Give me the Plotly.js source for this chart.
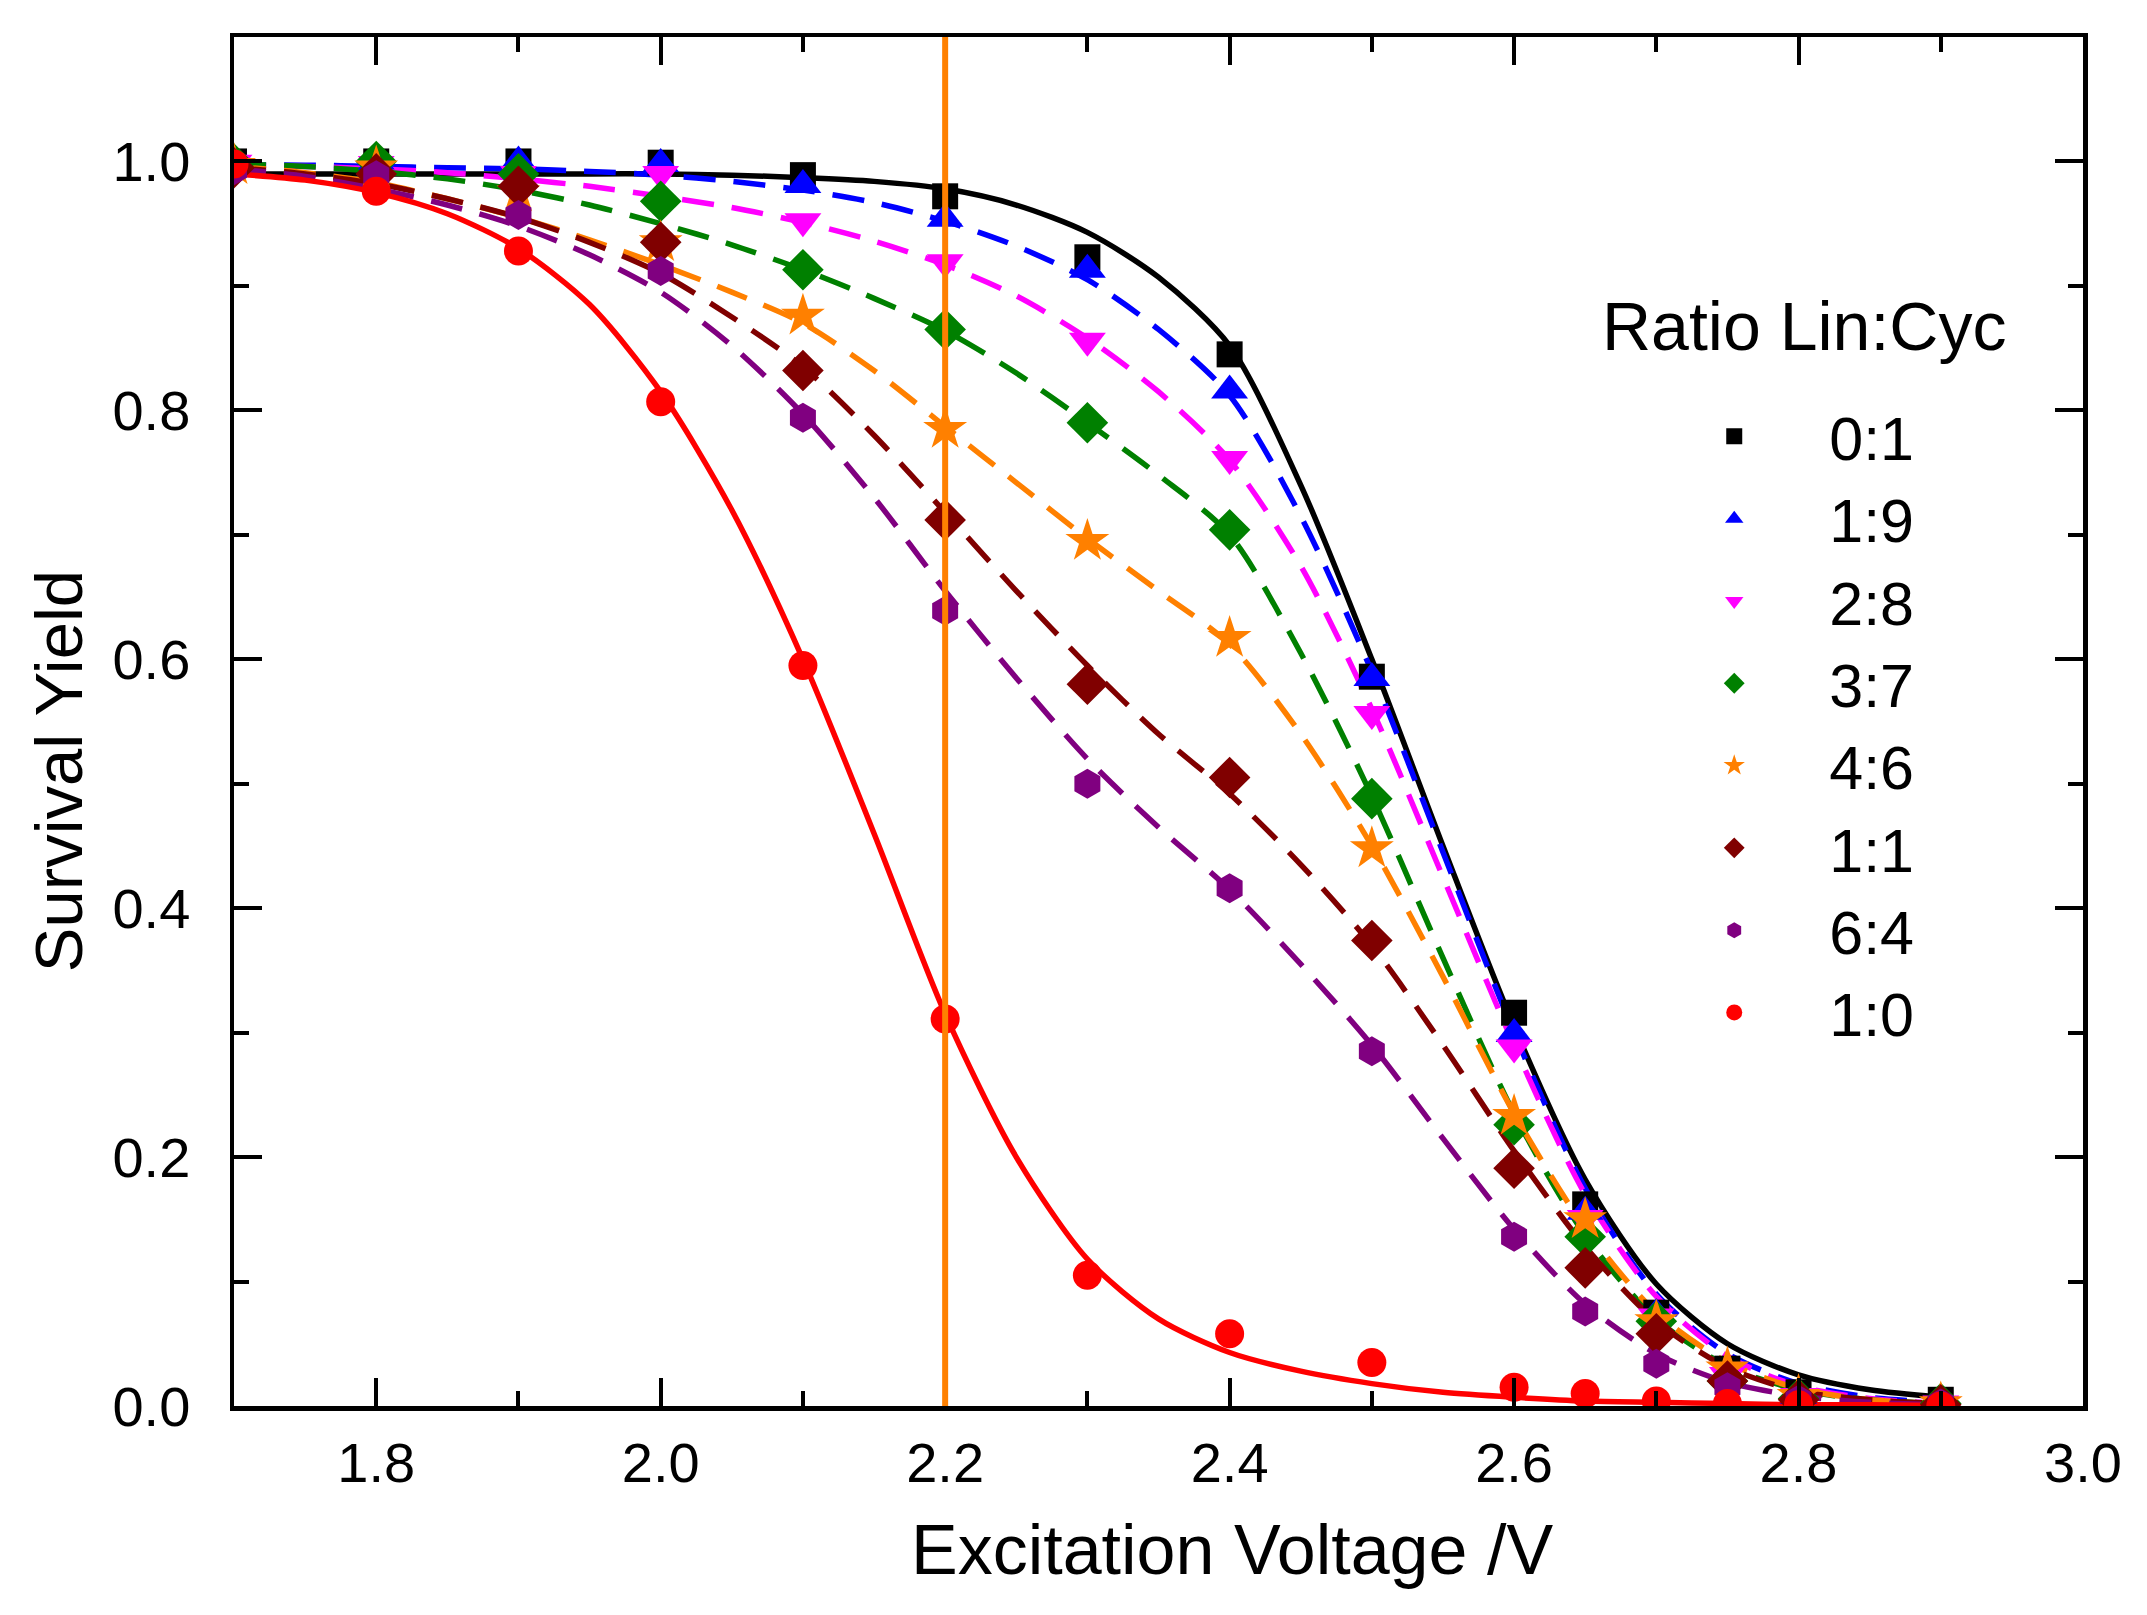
<!DOCTYPE html>
<html>
<head>
<meta charset="utf-8">
<script src="https://cdn.plot.ly/plotly-3.0.1.min.js"></script>
<style>
  html, body { margin: 0; padding: 0; background: #fff; }
  #chart { width: 2147px; height: 1615px; }
</style>
</head>
<body>
<div id="chart"></div>
<script>
// measured points
const voltages = [1.7, 1.8, 1.9, 2.0, 2.1, 2.2, 2.3, 2.4, 2.5, 2.6, 2.65, 2.7, 2.75, 2.8, 2.9];

const yield01 = [1.0, 1.0, 1.0, 0.999, 0.989, 0.972, 0.923, 0.845, 0.586, 0.316, 0.162, 0.075, 0.03, 0.011, 0.005];
const yield19 = [1.0, 1.0, 1.0, 0.998, 0.981, 0.954, 0.913, 0.816, 0.585, 0.299, 0.156, 0.074, 0.026, 0.008, 0.002];
const yield28 = [0.999, 0.998, 0.99, 0.99, 0.952, 0.919, 0.856, 0.761, 0.556, 0.288, 0.151, 0.072, 0.025, 0.008, 0.002];
const yield37 = [0.998, 1.0, 0.99, 0.968, 0.913, 0.865, 0.79, 0.704, 0.488, 0.226, 0.136, 0.068, 0.02, 0.006, 0.002];
const yield46 = [0.997, 0.995, 0.975, 0.935, 0.876, 0.785, 0.695, 0.617, 0.448, 0.233, 0.15, 0.068, 0.03, 0.008, 0.002];
const yield11 = [0.995, 0.99, 0.98, 0.935, 0.832, 0.712, 0.58, 0.505, 0.374, 0.191, 0.111, 0.058, 0.02, 0.005, 0.001];
const yield64 = [0.993, 0.989, 0.957, 0.912, 0.794, 0.639, 0.5, 0.416, 0.285, 0.136, 0.076, 0.034, 0.015, 0.005, 0.002];
const yield10 = [0.998, 0.976, 0.928, 0.807, 0.595, 0.311, 0.105, 0.058, 0.035, 0.015, 0.01, 0.004, 0.002, 0.001, 0.0];

// fitted curves
const fitVoltages = [1.7, 1.75, 1.8, 1.85, 1.9, 1.95, 2.0, 2.05, 2.1, 2.15, 2.2, 2.25, 2.3, 2.35, 2.4, 2.45, 2.5, 2.55, 2.6, 2.65, 2.7, 2.75, 2.8, 2.85, 2.9];

const fit01 = [0.99, 0.99, 0.99, 0.99, 0.99, 0.99, 0.99, 0.989, 0.987, 0.984, 0.978, 0.965, 0.943, 0.907, 0.852, 0.74, 0.6, 0.45, 0.305, 0.182, 0.098, 0.05, 0.025, 0.013, 0.007];
const fit19 = [0.997, 0.997, 0.996, 0.995, 0.994, 0.992, 0.989, 0.984, 0.977, 0.967, 0.952, 0.932, 0.905, 0.865, 0.812, 0.715, 0.59, 0.445, 0.3, 0.175, 0.09, 0.042, 0.018, 0.007, 0.003];
const fit28 = [0.997, 0.996, 0.994, 0.991, 0.986, 0.98, 0.972, 0.963, 0.951, 0.936, 0.917, 0.892, 0.858, 0.815, 0.76, 0.675, 0.56, 0.425, 0.29, 0.17, 0.088, 0.04, 0.016, 0.006, 0.002];
const fit37 = [0.998, 0.996, 0.992, 0.986, 0.977, 0.965, 0.95, 0.933, 0.913, 0.89, 0.864, 0.83, 0.79, 0.748, 0.7, 0.605, 0.49, 0.36, 0.235, 0.137, 0.07, 0.032, 0.013, 0.005, 0.002];
const fit46 = [0.996, 0.991, 0.983, 0.97, 0.955, 0.937, 0.917, 0.895, 0.87, 0.832, 0.787, 0.742, 0.697, 0.655, 0.612, 0.54, 0.45, 0.345, 0.235, 0.143, 0.075, 0.035, 0.014, 0.005, 0.002];
const fit11 = [0.995, 0.99, 0.982, 0.97, 0.955, 0.935, 0.91, 0.875, 0.835, 0.78, 0.718, 0.655, 0.595, 0.54, 0.492, 0.435, 0.37, 0.29, 0.205, 0.128, 0.068, 0.031, 0.012, 0.005, 0.002];
const fit64 = [0.994, 0.988, 0.978, 0.965, 0.948, 0.925, 0.895, 0.852, 0.797, 0.73, 0.655, 0.585, 0.52, 0.465, 0.415, 0.355, 0.29, 0.215, 0.142, 0.082, 0.042, 0.019, 0.008, 0.003, 0.001];
const fit10 = [0.99, 0.985, 0.975, 0.958, 0.93, 0.885, 0.815, 0.72, 0.6, 0.46, 0.315, 0.2, 0.118, 0.07, 0.043, 0.028, 0.018, 0.011, 0.007, 0.004, 0.003, 0.002, 0.001, 0.001, 0.0005];

const seriesNames = ["0:1", "1:9", "2:8", "3:7", "4:6", "1:1", "6:4", "1:0"];
const seriesColors = ["#000000", "#0000FF", "#FF00FF", "#008000", "#FF8000", "#800000", "#800080", "#FF0000"];
const seriesSymbols = ["square", "triangle-up", "triangle-down", "diamond", "star", "diamond", "hexagon", "circle"];
const seriesSizes = [26, 32, 32, 32, 33, 32, 30, 29];
const seriesYields = [yield01, yield19, yield28, yield37, yield46, yield11, yield64, yield10];
const seriesFits = [fit01, fit19, fit28, fit37, fit46, fit11, fit64, fit10];

// vertical marker line
const markerVoltage = 2.2;
const yRange = [0, 1.1];

const font = "Liberation Sans, Arial, sans-serif";
const traces = [];

seriesNames.forEach((name, i) => {
  const solid = name === "0:1" || name === "1:0";
  traces.push({
    x: fitVoltages,
    y: seriesFits[i],
    mode: "lines",
    type: "scatter",
    line: {
      color: seriesColors[i],
      width: 5.5,
      shape: "spline",
      smoothing: 0.8,
      dash: solid ? "solid" : "32px,18px",
    },
    showlegend: false,
    hoverinfo: "skip",
  });
});

seriesNames.forEach((name, i) => {
  traces.push({
    x: voltages,
    y: seriesYields[i],
    mode: "markers",
    type: "scatter",
    name: name,
    marker: {
      color: seriesColors[i],
      symbol: seriesSymbols[i],
      size: seriesSizes[i],
      line: { width: 0 },
    },
  });
});

const axisCommon = {
  showline: true,
  linecolor: "#000",
  linewidth: 4.5,
  mirror: "ticks",
  ticks: "inside",
  ticklen: 28,
  tickwidth: 4,
  tickcolor: "#000",
  showgrid: false,
  zeroline: false,
  tickfont: { family: font, size: 56, color: "#000" },
  tickformat: ".1f",
};

const titleFont = { family: font, color: "#000" };

const layout = {
  width: 2147,
  height: 1615,
  paper_bgcolor: "#fff",
  plot_bgcolor: "#fff",
  margin: { l: 234, r: 64, t: 37, b: 209 },
  xaxis: {
    ...axisCommon,
    range: [1.7, 3.0],
    tick0: 1.8,
    dtick: 0.2,
    ticklabelstandoff: 4,
    minor: { dtick: 0.1, tick0: 1.7, ticks: "inside", ticklen: 15, tickwidth: 4, tickcolor: "#000" },
  },
  yaxis: {
    ...axisCommon,
    range: yRange,
    tick0: 0,
    dtick: 0.2,
    ticklabelstandoff: 28,
    minor: { dtick: 0.1, tick0: 0, ticks: "inside", ticklen: 15, tickwidth: 4, tickcolor: "#000" },
  },
  shapes: [{
    type: "line",
    xref: "x", yref: "paper",
    x0: markerVoltage, x1: markerVoltage,
    y0: 0, y1: 1,
    layer: "above",
    line: { color: "#FF8000", width: 6 },
  }],
  legend: {
    x: 0.760,
    y: 0.742,
    xanchor: "left",
    yanchor: "top",
    bgcolor: "rgba(0,0,0,0)",
    itemwidth: 180,
    font: { family: font, size: 61, color: "#000" },
  },
  annotations: [
    {
      text: "Ratio Lin:Cyc",
      xref: "paper", yref: "paper",
      x: 0.739, y: 0.789,
      xanchor: "left", yanchor: "middle",
      showarrow: false,
      font: { ...titleFont, size: 68 },
    },
    {
      text: "Excitation Voltage /V",
      xref: "paper", yref: "paper",
      x: 0.540, y: -0.105,
      xanchor: "center", yanchor: "middle",
      showarrow: false,
      font: { ...titleFont, size: 70 },
    },
    {
      text: "Survival Yield",
      xref: "paper", yref: "paper",
      x: -0.095, y: 0.464,
      xanchor: "center", yanchor: "middle",
      textangle: -90,
      showarrow: false,
      font: { ...titleFont, size: 67 },
    },
  ],
  showlegend: true,
};

Plotly.newPlot("chart", traces, layout, { displayModeBar: false, staticPlot: true });
</script>
</body>
</html>
